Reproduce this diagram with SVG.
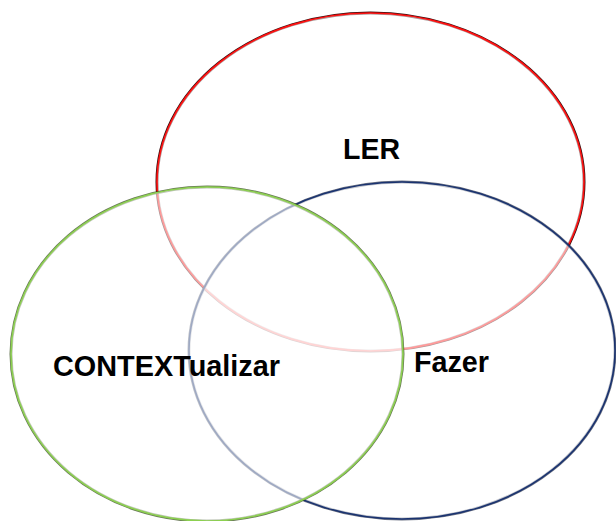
<svg xmlns="http://www.w3.org/2000/svg" width="616" height="521" viewBox="0 0 616 521">
<style>
.o{fill:none;stroke-width:3}
.fill{fill:#fff;fill-opacity:0.58;stroke-width:1.6}
text{font-family:"Liberation Sans",Arial,sans-serif;font-weight:bold;font-size:29px;fill:#000}
</style>
<rect width="616" height="521" fill="#fff"/>
<g id="ler">
<ellipse class="o" cx="370.5" cy="182" rx="213.5" ry="169" stroke="#3a1010"/>
<ellipse class="fill" cx="370.5" cy="182" rx="213.5" ry="169" stroke="#ff1010" fill-opacity="0"/>
</g>
<g id="fazer">
<ellipse class="o" cx="402" cy="350.5" rx="213" ry="168.5" stroke="#0a1430" stroke-opacity="0.6"/>
<ellipse class="fill" cx="402" cy="350.5" rx="213" ry="168.5" stroke="#1a3370"/>
</g>
<g id="contextualizar">
<ellipse class="o" cx="207" cy="354" rx="196" ry="167" stroke="#2a4010" stroke-opacity="0.7"/>
<ellipse class="fill" cx="207" cy="354" rx="196" ry="167" stroke="#8cd050"/>
</g>
<g id="labels">
<text x="343" y="159" textLength="57" lengthAdjust="spacingAndGlyphs">LER</text>
<text x="53" y="376" textLength="227" lengthAdjust="spacingAndGlyphs">CONTEXTualizar</text>
<text x="414" y="372" textLength="75" lengthAdjust="spacingAndGlyphs">Fazer</text>
</g>
</svg>
